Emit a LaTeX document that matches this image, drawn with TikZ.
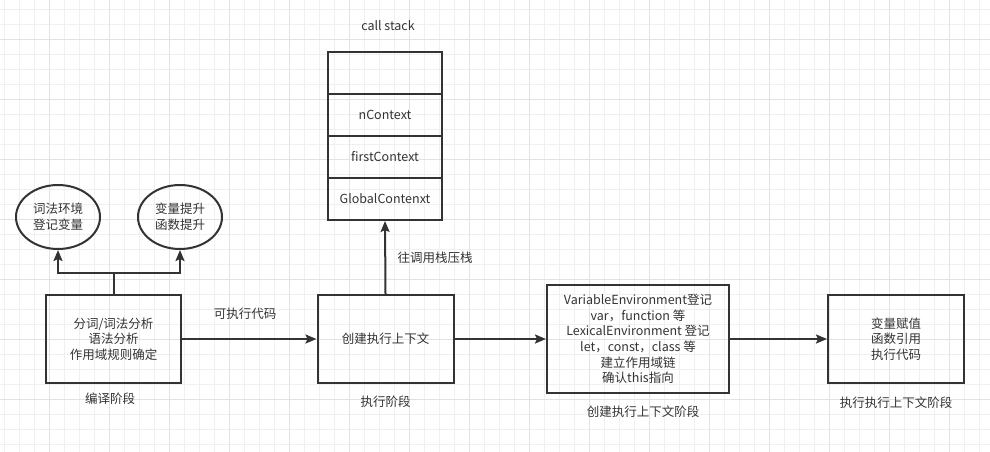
\documentclass[tikz,border=0pt]{standalone}
\usepackage{fontspec}
\setmainfont{Noto Sans CJK SC}
\usetikzlibrary{shapes.geometric,positioning,arrows.meta}
\definecolor{ink}{HTML}{333333}
\definecolor{gridminor}{HTML}{F0F0F0}
\definecolor{gridmajor}{HTML}{E2E2E2}

\tikzstyle{block} = [rectangle, draw=ink, line width=2pt, text=ink, align=center, minimum width=135pt, minimum height=88pt, font=\fontsize{12.5}{15.6}\selectfont]
\tikzstyle{cell} = [rectangle, draw=ink, line width=2pt, text=ink, minimum width=114pt, minimum height=42pt, font=\fontsize{12.5}{15.6}\selectfont]
\tikzstyle{bubble} = [ellipse, draw=ink, line width=2pt, text=ink, align=center, minimum width=84pt, minimum height=64pt, inner sep=0pt, font=\fontsize{12.5}{15.6}\selectfont]
\tikzstyle{tag} = [text=ink, font=\fontsize{12.5}{15.6}\selectfont]
\tikzstyle{arrow} = [draw=ink, line width=2pt, -{Stealth[length=11pt, width=9pt, inset=2pt]}]
\tikzstyle{line} = [draw=ink, line width=2pt]

\begin{document}
\begin{tikzpicture}[x=1pt, y=-1pt, node distance=1cm, auto]
    \useasboundingbox (0,0) rectangle (990,452);

    % grid
    \foreach \gx in {4.3,19.3,...,990} \draw[gridminor, line width=0.8pt] (\gx,0) -- (\gx,452);
    \foreach \gy in {9.3,24.3,...,452} \draw[gridminor, line width=0.8pt] (0,\gy) -- (990,\gy);
    \foreach \gx in {49.3,109.3,...,990} \draw[gridmajor, line width=0.8pt] (\gx,0) -- (\gx,452);
    \foreach \gy in {39.3,99.3,...,452} \draw[gridmajor, line width=0.8pt] (0,\gy) -- (990,\gy);

    \node[block] (compile) at (113.5,339) {分词/词法分析\\语法分析\\作用域规则确定};
    \node[block, right of=compile, node distance=272pt, minimum width=136pt] (create) {创建执行上下文};
    \node[block, right of=create, node distance=252.5pt, minimum width=182pt, minimum height=108pt] (setup) {VariableEnvironment登记\\var，function 等\\LexicalEnvironment 登记\\let，const，class 等\\建立作用域链\\确认this指向};
    \node[block, right of=setup, node distance=258pt, minimum width=136pt] (run) {变量赋值\\函数引用\\执行代码};

    \node[bubble, above of=compile, node distance=122pt, xshift=-55.5pt] (lexenv) {词法环境\\登记变量};
    \node[bubble, above of=compile, node distance=122pt, xshift=66.5pt] (hoist) {变量提升\\函数提升};

    % call stack
    \node[cell, above of=create, node distance=140pt, xshift=-0.5pt] (global) {GlobalContenxt};
    \node[cell, above of=global, node distance=42pt] (first) {firstContext};
    \node[cell, above of=first, node distance=42pt] (ncontext) {nContext};
    \node[cell, above of=ncontext, node distance=42pt] (top) {};
    \node[tag, above of=top, node distance=47pt, xshift=3pt] (stacktitle) {call stack};

    % labels
    \node[tag, below of=compile, node distance=60pt, xshift=-3.5pt] (compiletag) {编译阶段};
    \node[tag, below of=create, node distance=62.5pt] (createtag) {执行阶段};
    \node[tag, below of=setup, node distance=73pt, xshift=5pt] (setuptag) {创建执行上下文阶段};
    \node[tag, below of=run, node distance=64pt] (runtag) {执行执行上下文阶段};
    \node[tag] (codetag) at (245,314) {可执行代码};
    \node[tag] (pushtag) at (435,258) {往调用栈压栈};

    % lines
    \coordinate (fork) at (113.5,273);
    \draw [line] (compile.north) to (fork);
    \draw [arrow] (fork) -| (lexenv.south);
    \draw [arrow] (fork) -| (hoist.south);
    \draw [arrow] (compile.east) to (create.west);
    \draw [arrow] (create.east) to (setup.west);
    \draw [arrow] (setup.east) to (run.west);
    \draw [arrow] (create.north) to (global.south);
\end{tikzpicture}
\end{document}
